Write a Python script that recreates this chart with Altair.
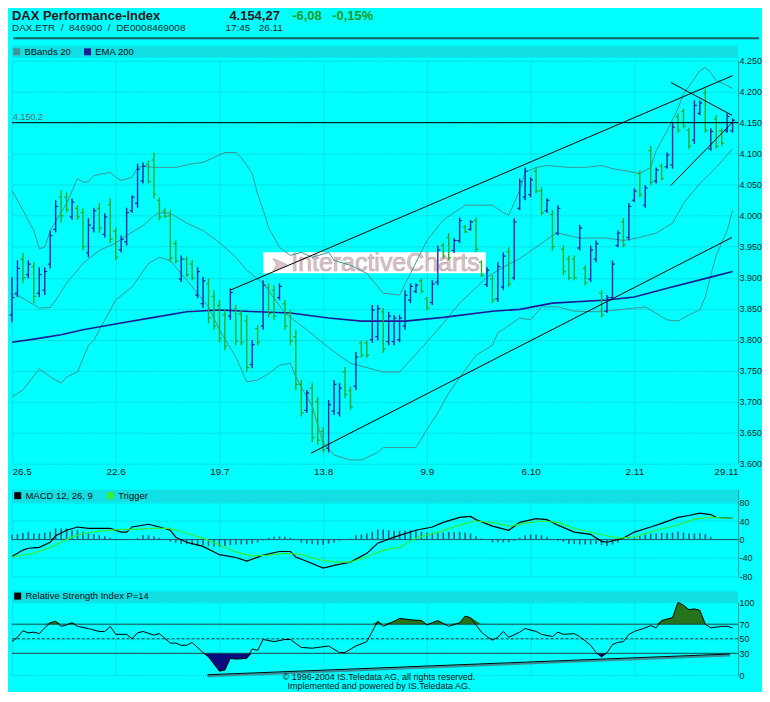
import altair as alt
import pandas as pd

FONT = "Liberation Sans"
BG = "#00FFFF"
GRID = "#00c6ce"
STRIP = "#12dfe4"
TXT = "#262626"
UP = "#1c24a6"
DOWN = "#2ca82c"
BB_COL = "#3f9494"
EMA_COL = "#1c1c96"
HIST_COL = "#22607c"
OB_GREEN = "#23741a"
OS_NAVY = "#0a0a80"

# ---------------- data ----------------
x_ticks = [0, 19, 38, 57, 76, 95, 114, 133]
x_labels = ["26.5", "22.6", "19.7", "13.8", "9.9", "6.10", "2.11", "29.11"]

high = [3901, 3928, 3940, 3928, 3925, 3917, 3917, 3976, 4025, 4041,
        4038, 4028, 4017, 4012, 3996, 4013, 4020, 4004, 4028, 3981,
        3968, 4013, 4033, 4084, 4086, 4089, 4102, 4030, 4012, 4009,
        3960, 3936, 3934, 3928, 3917, 3901, 3899, 3880, 3864, 3848,
        3883, 3856, 3848, 3840, 3799, 3824, 3896, 3891, 3888, 3891,
        3864, 3848, 3816, 3735, 3719, 3730, 3708, 3659, 3703, 3735,
        3730, 3756, 3724, 3780, 3799, 3799, 3856, 3856, 3851, 3845,
        3840, 3840, 3880, 3891, 3891, 3899, 3869, 3896, 3952, 3956,
        3972, 3964, 3997, 3985, 3993, 3997, 3928, 3917, 3904, 3925,
        3941, 3949, 3996, 4060, 4078, 4062, 4078, 4046, 4028, 4009,
        4017, 3952, 3936, 3936, 3985, 3920, 3952, 3960, 3880, 3872,
        3928, 3976, 3996, 4020, 4044, 4073, 4049, 4113, 4078, 4084,
        4102, 4150, 4165, 4173, 4142, 4186, 4186, 4205, 4141, 4162,
        4141, 4165, 4157]
low = [3828, 3869, 3891, 3899, 3859, 3869, 3872, 3915, 3973, 3989,
       4005, 3993, 3993, 3944, 3933, 3973, 3972, 3965, 3956, 3928,
       3941, 3952, 4005, 4013, 4052, 4052, 4028, 3993, 3996, 3925,
       3923, 3893, 3901, 3896, 3867, 3851, 3827, 3816, 3796, 3783,
       3832, 3791, 3791, 3748, 3754, 3791, 3816, 3836, 3832, 3864,
       3816, 3791, 3719, 3676, 3682, 3635, 3631, 3618, 3618, 3679,
       3676, 3706, 3687, 3719, 3771, 3771, 3795, 3799, 3779, 3791,
       3791, 3796, 3816, 3859, 3875, 3875, 3848, 3856, 3888, 3931,
       3928, 3940, 3956, 3972, 3976, 3941, 3901, 3885, 3859, 3861,
       3880, 3885, 3896, 4009, 4025, 4030, 4036, 4001, 4005, 3944,
       3968, 3904, 3896, 3896, 3944, 3888, 3893, 3925, 3836, 3843,
       3864, 3949, 3949, 3960, 4022, 4030, 4013, 4049, 4052, 4057,
       4076, 4076, 4134, 4141, 4108, 4116, 4162, 4134, 4105, 4108,
       4113, 4134, 4134]
open_ = [3840, 3875, 3930, 3905, 3918, 3875, 3880, 3922, 3978, 4030,
         4030, 3998, 4012, 4005, 3940, 3980, 4012, 3970, 4018, 3975,
         3945, 3958, 4008, 4020, 4056, 4083, 4090, 4025, 4008, 4000,
         3955, 3898, 3930, 3922, 3872, 3858, 3890, 3870, 3855, 3840,
         3838, 3850, 3842, 3830, 3760, 3818, 3822, 3885, 3880, 3868,
         3858, 3842, 3805, 3728, 3686, 3722, 3700, 3652, 3625, 3685,
         3682, 3748, 3718, 3725, 3795, 3795, 3800, 3805, 3845, 3797,
         3797, 3800, 3822, 3864, 3878, 3895, 3866, 3860, 3893, 3952,
         3965, 3944, 3960, 3982, 3978, 3992, 3925, 3889, 3898, 3866,
         3885, 3942, 3900, 4012, 4030, 4034, 4072, 4040, 4008, 4002,
         3972, 3946, 3930, 3930, 3948, 3915, 3898, 3930, 3875, 3846,
         3868, 3952, 3990, 3965, 4025, 4068, 4017, 4105, 4056, 4080,
         4079, 4082, 4160, 4168, 4138, 4122, 4165, 4198, 4108, 4156,
         4137, 4137, 4137]
close = [3868, 3915, 3900, 3922, 3870, 3905, 3910, 3968, 4015, 4000,
         4010, 4022, 3998, 3950, 3985, 4008, 3980, 3998, 3962, 3933,
         3962, 4005, 4030, 4075, 4080, 4055, 4035, 3998, 3999, 3932,
         3927, 3930, 3905, 3900, 3910, 3895, 3835, 3822, 3802, 3790,
         3876, 3798, 3796, 3755, 3792, 3796, 3888, 3842, 3838, 3886,
         3822, 3798, 3728, 3682, 3714, 3642, 3638, 3622, 3695, 3728,
         3722, 3712, 3692, 3772, 3775, 3775, 3848, 3850, 3785, 3838,
         3835, 3835, 3872, 3886, 3888, 3878, 3851, 3890, 3945, 3935,
         3932, 3960, 3992, 3974, 3990, 3946, 3904, 3912, 3864, 3918,
         3935, 3890, 3990, 4055, 4072, 4058, 4040, 4005, 4025, 3950,
         4012, 3910, 3900, 3900, 3980, 3892, 3945, 3955, 3840, 3868,
         3922, 3972, 3953, 4015, 4040, 4034, 4045, 4054, 4074, 4060,
         4098, 4143, 4138, 4145, 4112, 4178, 4182, 4138, 4136, 4112,
         4117, 4160, 4154]

bb_upper = [(0, 4041), (2, 4009), (4, 3976), (5, 3947), (6, 3949), (7, 3976), (10, 4020),
            (12, 4060), (13, 4054), (14, 4055), (15, 4065), (18, 4070), (19, 4062), (20, 4057),
            (22, 4062), (23, 4078), (24, 4080), (26, 4078), (28, 4078), (30, 4078), (33, 4084),
            (35, 4086), (37, 4094), (39, 4102), (41, 4102), (42, 4094), (44, 4068), (45, 4035),
            (46, 4010), (47, 3981), (49, 3949), (51, 3936), (53, 3941), (55, 3933), (58, 3941),
            (59, 3928), (62, 3920), (65, 3907), (68, 3875), (71, 3872), (73, 3907), (76, 3960),
            (79, 3993), (83, 4017), (88, 4017), (90, 4005), (91, 4001), (93, 4041), (94, 4070),
            (96, 4078), (98, 4081), (102, 4078), (105, 4078), (108, 4081), (110, 4076), (112, 4073),
            (115, 4068), (117, 4078), (118, 4105), (120, 4137), (122, 4173), (123, 4197),
            (125, 4221), (126, 4234), (127, 4239), (128, 4231), (129, 4218), (131, 4210), (132, 4205)]
bb_mid = [(0, 3875), (2, 3867), (5, 3851), (7, 3852), (8, 3864), (10, 3891), (13, 3923),
          (16, 3944), (19, 3956), (21, 3968), (24, 3984), (26, 4000), (27, 4005), (29, 4004),
          (32, 3988), (35, 3976), (38, 3957), (41, 3933), (43, 3912), (46, 3891), (50, 3843),
          (54, 3816), (58, 3787), (62, 3762), (68, 3748), (71, 3748), (73, 3767), (78, 3816),
          (82, 3859), (87, 3901), (90, 3917), (93, 3931), (96, 3949), (99, 3968), (100, 3972),
          (104, 3964), (109, 3964), (112, 3960), (115, 3965), (118, 3972), (121, 3988),
          (123, 4020), (126, 4052), (129, 4078), (132, 4108)]
bb_lower = [(0, 3708), (2, 3719), (5, 3753), (7, 3740), (9, 3730), (10, 3740), (12, 3748),
            (14, 3791), (15, 3799), (16, 3816), (19, 3864), (22, 3885), (25, 3923), (27, 3933),
            (29, 3928), (32, 3896), (36, 3853), (38, 3816), (41, 3772), (43, 3732), (45, 3735),
            (47, 3745), (49, 3759), (51, 3762), (52, 3740), (55, 3692), (57, 3634), (59, 3614),
            (62, 3606), (64, 3606), (67, 3618), (68, 3626), (71, 3626), (74, 3626), (76, 3655),
            (78, 3682), (80, 3714), (83, 3751), (85, 3775), (88, 3791), (89, 3811), (93, 3835),
            (95, 3832), (97, 3853), (100, 3853), (103, 3846), (107, 3845), (111, 3848),
            (116, 3853), (117, 3848), (120, 3832), (122, 3830), (124, 3840), (126, 3848),
            (127, 3869), (128, 3904), (129, 3936), (131, 3976), (132, 4009)]
ema200 = [(0, 3796), (4, 3801), (9, 3808), (13, 3816), (20, 3827), (26, 3836), (32, 3845),
          (38, 3848), (45, 3845), (51, 3843), (58, 3835), (64, 3830), (72, 3830), (79, 3836),
          (88, 3846), (93, 3849), (99, 3859), (109, 3864), (114, 3869), (120, 3883),
          (128, 3901), (132, 3910)]

trend_lines = {
    "channel_top": [(40, 3880), (132, 4226)],
    "channel_bottom": [(54.8, 3617), (131.9, 3965)],
    "wedge_top": [(120.7, 4215), (131.9, 4162)],
    "wedge_bottom": [(120.7, 4049), (131.9, 4150)],
}
hline = [4150.2]
hline_label = ["4.150,2"]

macd = [(0, -37), (2, -23), (3, -19), (5, -17), (7, -6), (8, 8), (10, 20), (12, 27), (14, 24),
        (18, 24), (20, 16), (21, 16), (22, 27), (25, 33), (27, 27), (29, 20), (30, 5), (32, -6),
        (35, -15), (38, -33), (41, -39), (43, -47), (46, -34), (49, -26), (51, -26), (52, -38),
        (55, -52), (57, -62), (59, -56), (62, -49), (65, -30), (67, -8), (70, 5), (74, 20),
        (77, 27), (79, 37), (82, 48), (84, 50), (85, 43), (88, 29), (91, 20), (93, 37), (96, 45),
        (98, 43), (100, 31), (103, 16), (106, 11), (108, -4), (109, -6), (112, 3), (114, 16),
        (117, 27), (119, 35), (122, 48), (124, 52), (126, 57), (128, 54), (129, 48), (132, 46)]
trigger = [(0, -38), (4, -30), (7, -17), (11, 5), (13, 13), (16, 18), (20, 22), (22, 22), (26, 24),
           (29, 24), (32, 13), (35, 3), (38, -12), (41, -27), (44, -36), (47, -34), (50, -30),
           (53, -32), (56, -43), (59, -49), (62, -49), (65, -38), (67, -28), (69, -21), (71, -17),
           (74, 3), (78, 16), (82, 31), (85, 40), (89, 35), (91, 29), (94, 35), (97, 40), (100, 37),
           (103, 24), (107, 13), (111, 3), (114, 5), (118, 20), (122, 31), (125, 44), (128, 48),
           (132, 46)]
macd_hist = [10, 11.5, 14, 16.5, 13, 13, 15, 16.5, 24, 24,
             24, 20, 20, 16.5, 13, 11.5, 9, 7, 4, 1,
             -1.5, 0, 0, 3, 9, 9, 7, 4, 0, -5,
             -7, -10, -10, -12, -14, -12, -14, -16, -16, -14,
             -12, -11, -11, -11, -9, -6.5, -1.5, 4, 6, 7,
             6, 4, 0, -7, -9, -10, -12, -12, -9, -7,
             -3, 0, 2, 9, 11, 13, 16.5, 21.6, 21.6, 20,
             19, 18, 19, 20, 18, 16.5, 15, 15, 14, 15,
             16.5, 16, 16.5, 15, 13, 7, 2, 0, -6.5, -6.5,
             -6.5, -6, -3, 4, 9, 11, 11, 9, 6, 0,
             -3, -5, -9, -10, -11, -11, -11, -10, -12, -14,
             -11, -7, 0, 2, 6, 9, 11, 13, 13, 14,
             14, 15, 16.5, 15, 13, 13, 14, 11.5, 6, 0,
             0, 0, 0]

rsi = [(0, 46), (1, 52), (2, 61), (3, 58), (4, 59), (5, 57), (6, 65), (7, 72), (8, 74), (9, 67),
       (10, 69), (11, 72), (12, 67), (14, 64), (16, 60), (17, 60), (18, 67), (19, 56), (21, 56),
       (22, 50), (23, 58), (24, 60), (26, 55), (27, 57), (29, 44), (30, 44), (31, 41), (32, 41),
       (33, 45), (35, 31), (36, 25), (38, 5.5), (39, 7), (40, 23), (41, 22), (43, 23), (44, 36),
       (45, 34), (46, 49), (48, 46), (50, 49), (51, 49), (53, 38), (55, 37), (56, 38), (58, 40),
       (60, 31), (61, 31), (63, 40), (65, 46), (66, 60), (67, 74), (68, 67), (70, 74), (71, 78),
       (73, 76), (75, 75), (76, 69), (77, 72), (78, 75), (79, 71), (80, 67), (82, 72), (83, 81),
       (84, 79), (86, 59), (87, 53), (88, 48), (89, 52), (90, 60), (91, 52), (93, 59), (94, 64),
       (96, 60), (97, 56), (99, 53), (100, 59), (101, 56), (103, 57), (104, 53), (106, 41),
       (107, 31), (108, 25), (109, 31), (110, 42), (111, 45), (112, 46), (113, 56), (114, 60),
       (116, 65), (117, 68), (118, 65), (119, 75), (121, 79), (122, 100), (123, 96), (124, 90),
       (125, 91), (126, 89), (127, 70), (128, 65), (130, 67), (131, 67), (132, 65)]
rsi_trend = [(35.8, 0.5), (131.5, 29)]

# ---------------- layout ----------------
W = 728
H_PRICE, H_MACD, H_RSI = 404, 87, 73
MACD_DOMAIN = [-80, 108]
one = pd.DataFrame({"k": [0]})

XS = alt.Scale(domain=[0, 133], nice=False, zero=False)
label_expr = " : ".join(f"datum.value == {t} ? '{l}'" for t, l in zip(x_ticks, x_labels)) + " : ''"


def x_axis(show_labels):
    return alt.Axis(values=x_ticks, grid=True, gridColor=GRID, gridDash=[1, 1], ticks=False,
                    domain=False, labels=show_labels, labelExpr=label_expr, labelFlush=True,
                    labelFontSize=10, labelColor=TXT, labelPadding=3, title=None)


def y_axis(values, expr):
    return alt.Axis(orient="right", values=values, grid=True, gridColor=GRID, gridDash=[1, 1],
                    ticks=False, domain=True, domainColor="#4f8e8e", labelExpr=expr,
                    labelFontSize=9, labelColor=TXT, labelPadding=1, title=None)


XP = alt.X("i:Q", scale=XS, axis=x_axis(True))
XN = alt.X("i:Q", scale=XS, axis=x_axis(False))

price_axis = y_axis(list(range(3600, 4251, 50)), "replace(format(datum.value, ',d'), ',', '.')")
YPS = alt.Scale(domain=[3600, 4250], nice=False, zero=False)


def YP(f):
    return alt.Y(f"{f}:Q", scale=YPS, axis=price_axis)


macd_axis = y_axis([-80, -40, 0, 40, 80], "'' + datum.value")
YMS = alt.Scale(domain=MACD_DOMAIN, nice=False, zero=False)


def YM(f):
    return alt.Y(f"{f}:Q", scale=YMS, axis=macd_axis)


rsi_axis = y_axis([0, 30, 50, 70, 100], "'' + datum.value")
YRS = alt.Scale(domain=[0, 100], nice=False, zero=False)


def YR(f):
    return alt.Y(f"{f}:Q", scale=YRS, axis=rsi_axis)


def legend(x, y):
    return alt.Legend(orient="none", legendX=x, legendY=y, direction="horizontal", title=None,
                      symbolType="square", symbolSize=12, symbolStrokeWidth=3.5, labelFontSize=9.5,
                      labelColor="#111111", labelFont=FONT, columnPadding=8, labelOffset=3, padding=0)


def strip(y0, y1, color=STRIP):
    return alt.Chart(one).mark_rect(color=color).encode(
        x=alt.value(0), x2=alt.value(W), y=alt.value(y0), y2=alt.value(y1))


def label(text, x, y, size=10, weight="normal", color=TXT, align="left", **kw):
    return alt.Chart(one).mark_text(text=text, align=align, baseline="alphabetic", font=FONT,
                                    fontSize=size, fontWeight=weight, color=color, **kw).encode(
        x=alt.value(x), y=alt.value(y))


# ---------------- price panel ----------------
ohlc = pd.DataFrame({"i": list(range(len(close))), "open": open_, "high": high,
                     "low": low, "close": close})
bar_color = alt.condition(alt.datum.close >= alt.datum.open, alt.value(UP), alt.value(DOWN))
base = alt.Chart(ohlc)
hl = base.mark_rule(strokeWidth=1.4).encode(x=XP, y=YP("low"), y2=alt.Y2("high"), color=bar_color)
op = base.transform_calculate(io="datum.i - 0.45").mark_rule(strokeWidth=1.2).encode(
    x=XP, x2=alt.X2("io"), y=YP("open"), color=bar_color)
cl = base.transform_calculate(ic="datum.i + 0.45").mark_rule(strokeWidth=1.2).encode(
    x=XP, x2=alt.X2("ic"), y=YP("close"), color=bar_color)

band_rows = []
for name, pts in (("upper", bb_upper), ("mid", bb_mid), ("lower", bb_lower)):
    for i, v in pts:
        band_rows.append({"i": i, "v": v, "band": name, "s": "BBands 20"})
ema_df = pd.DataFrame({"i": [p[0] for p in ema200], "v": [p[1] for p in ema200], "s": "EMA 200"})
price_color = alt.Color("s:N", scale=alt.Scale(domain=["BBands 20", "EMA 200"],
                                               range=[BB_COL, EMA_COL]), legend=legend(0, -14))
bands = alt.Chart(pd.DataFrame(band_rows)).mark_line(strokeWidth=1).encode(
    x=XP, y=YP("v"), detail="band:N", color=price_color)
ema_line = alt.Chart(ema_df).mark_line(strokeWidth=1.6).encode(x=XP, y=YP("v"), color=price_color)

trend_rows = [{"id": k, "i": i, "v": v} for k, pts in trend_lines.items() for i, v in pts]
trend = alt.Chart(pd.DataFrame(trend_rows)).mark_line(color="black", strokeWidth=1).encode(
    x=XP, y=YP("v"), detail="id:N")
hl_df = pd.DataFrame({"v": hline, "t": hline_label})
h_rule = alt.Chart(hl_df).mark_rule(color="black", strokeWidth=1).encode(y=YP("v"))
h_text = alt.Chart(hl_df).mark_text(align="left", baseline="alphabetic", dy=-3, font=FONT,
                                    fontSize=9, color="#5a6e6e").encode(
    x=alt.value(1), y=YP("v"), text="t:N")

wm_rect = alt.Chart(one).mark_rect(color="white").encode(
    x=alt.value(252), x2=alt.value(475), y=alt.value(192), y2=alt.value(213))
wm_text = label("InteractiveCharts", 280, 211, size=25, color="#dcc4ca",
                stroke="#b8a6ac", strokeWidth=0.6)
wm_logo = label("\u27a4", 260, 211, size=20, color="#dcc4ca", stroke="#b8a6ac", strokeWidth=0.6)

top_anchor = alt.Chart(one).mark_rect(color=BG).encode(
    x=alt.value(0), x2=alt.value(W), y=alt.value(-52), y2=alt.value(-46))
header_line = alt.Chart(one).mark_rule(color="#1a5e64", strokeWidth=2).encode(
    x=alt.value(1.5), x2=alt.value(749), y=alt.value(-22.5))
header = [
    label("DAX Performance-Index", 0, -41, size=13, weight="bold", color="#2e1616"),
    label("4.154,27", 218, -41, size=13, weight="bold", color="#2e1616"),
    label("-6,08", 281, -41, size=13, weight="bold", color="#1e9a1e"),
    label("-0,15%", 321, -41, size=13, weight="bold", color="#1e9a1e"),
    label("DAX.ETR \u00a0/\u00a0 846900 \u00a0/\u00a0 DE0008469008", 0, -30, size=10),
    label("17:45 \u00a0 26.11", 214, -30, size=10),
]

price = alt.layer(
    top_anchor, strip(-15, -3), wm_rect, wm_logo, wm_text, bands, ema_line, hl, op, cl, trend,
    h_rule, h_text, header_line, *header
).properties(width=W, height=H_PRICE)

# ---------------- MACD panel ----------------
hist_df = pd.DataFrame({"i": list(range(len(macd_hist))), "h": macd_hist})
hist = alt.Chart(hist_df).mark_rule(color=HIST_COL, strokeWidth=1.6).encode(
    x=XN, y=YM("h"), y2=alt.datum(0))
zero_df = pd.DataFrame({"v": [0]})
zero = alt.Chart(zero_df).mark_rule(color="#1f5e6e", strokeWidth=1).encode(y=YM("v"))
macd_rows = ([{"i": i, "v": v, "s": "MACD 12, 26, 9"} for i, v in macd] +
             [{"i": i, "v": v, "s": "Trigger"} for i, v in trigger])
macd_color = alt.Color("s:N", scale=alt.Scale(domain=["MACD 12, 26, 9", "Trigger"],
                                              range=["#000000", "#33ee33"]), legend=legend(1, 1))
macd_lines = alt.Chart(pd.DataFrame(macd_rows)).mark_line(strokeWidth=1.2).encode(
    x=XN, y=YM("v"), color=macd_color)
macd_chart = alt.layer(strip(0, 12.9), hist, zero, macd_lines).properties(width=W, height=H_MACD)

# ---------------- RSI panel ----------------
rsi_df = pd.DataFrame({"i": [p[0] for p in rsi], "v": [p[1] for p in rsi],
                       "s": "Relative Strength Index P=14"})
over = alt.Chart(rsi_df).transform_calculate(top="max(datum.v, 70)").mark_area(
    color=OB_GREEN).encode(x=XN, y=YR("top"), y2=alt.datum(70))
under = alt.Chart(rsi_df).transform_calculate(bot="min(datum.v, 30)").mark_area(
    color=OS_NAVY).encode(x=XN, y=YR("bot"), y2=alt.datum(30))
lv = pd.DataFrame({"v": [70, 30]})
levels = alt.Chart(lv).mark_rule(color="#1a4a4a", strokeWidth=1).encode(y=YR("v"))
mid_df = pd.DataFrame({"v": [50]})
mid = alt.Chart(mid_df).mark_rule(color="#1a4a4a", strokeWidth=1, strokeDash=[3, 2]).encode(y=YR("v"))
rt_df = pd.DataFrame({"i": [p[0] for p in rsi_trend], "v": [p[1] for p in rsi_trend]})
rsi_trend_shadow = alt.Chart(rt_df).mark_line(color="#3c8e96", strokeWidth=2, yOffset=1.5).encode(
    x=XN, y=YR("v"))
rsi_trend_line = alt.Chart(rt_df).mark_line(color="black", strokeWidth=1).encode(x=XN, y=YR("v"))
rsi_color = alt.Color("s:N", scale=alt.Scale(domain=["Relative Strength Index P=14"],
                                             range=["#000000"]), legend=legend(1, -11))
rsi_line = alt.Chart(rsi_df).mark_line(strokeWidth=1).encode(x=XN, y=YR("v"), color=rsi_color)
footer = [
    label("\u00a9 1996-2004 IS.Teledata AG, all rights reserved.", 368, 78, size=9,
          align="center", color="#111111"),
    label("Implemented and powered by IS.Teledata AG.", 368, 87, size=9, align="center",
          color="#111111"),
]
rsi_chart = alt.layer(strip(-11, 0), over, under, levels, mid, rsi_trend_shadow, rsi_trend_line,
                      rsi_line, *footer).properties(width=W, height=H_RSI)

chart = alt.vconcat(price, macd_chart, rsi_chart, spacing=26, bounds="flush", padding=0).resolve_scale(
    y="independent", color="independent").resolve_legend(color="independent").configure(
    background=BG, font=FONT, padding=0).configure_view(strokeWidth=0)

chart.save("out.html", embed_options={"renderer": "svg", "actions": False})
